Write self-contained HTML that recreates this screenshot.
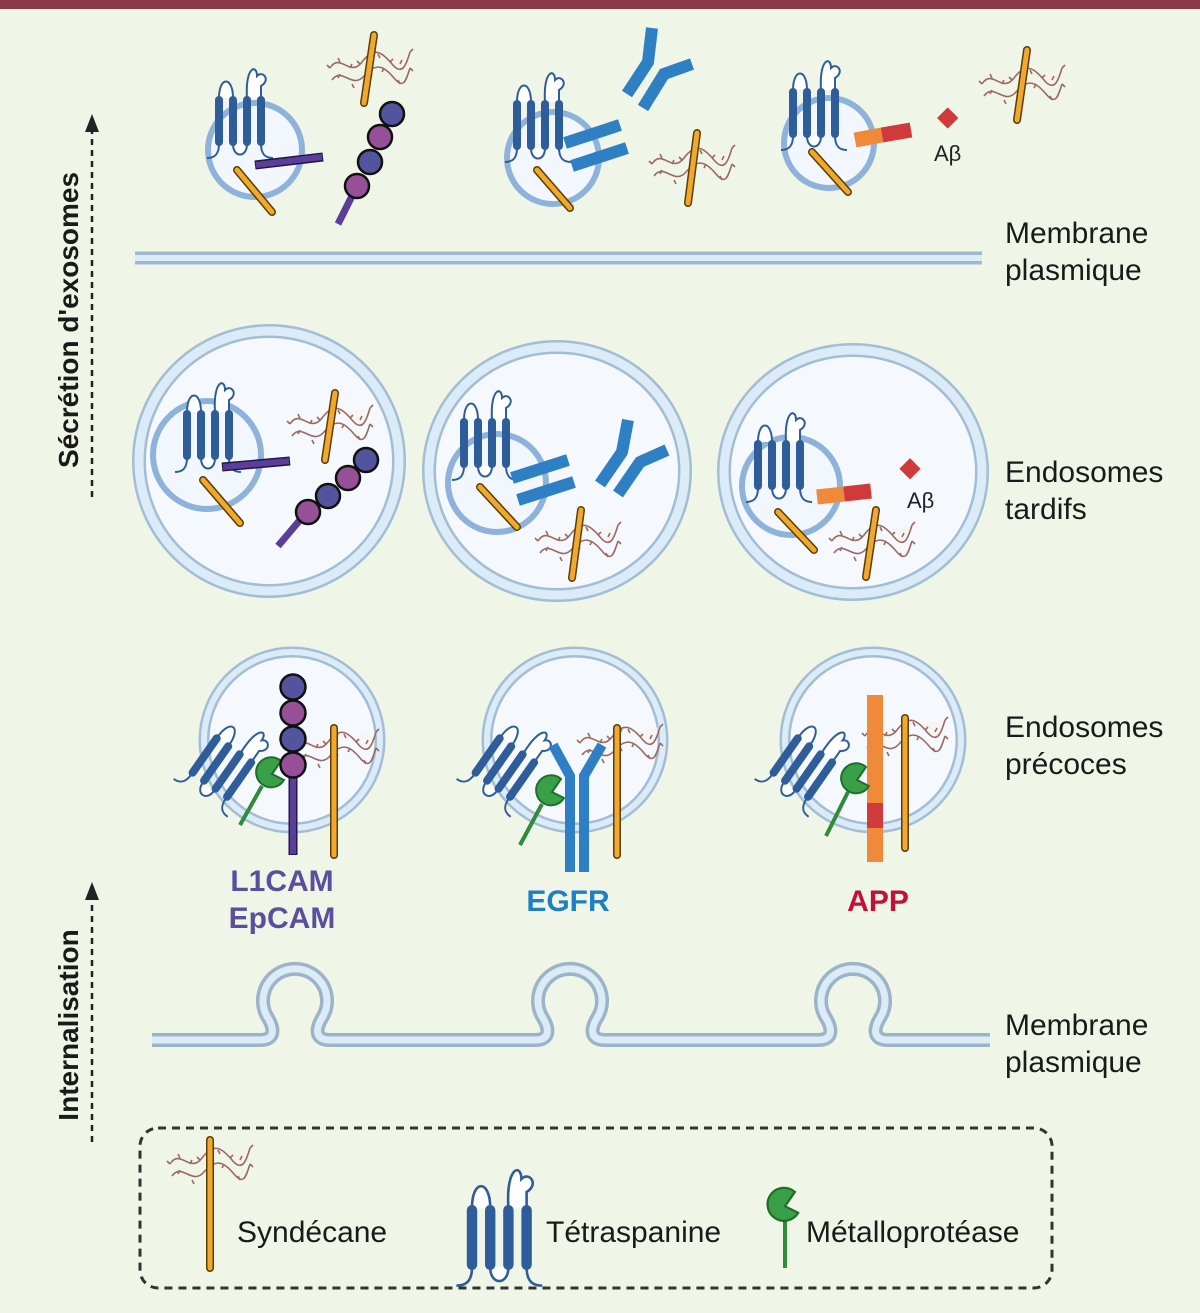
<!DOCTYPE html>
<html><head><meta charset="utf-8"><style>
html,body{margin:0;padding:0;background:#eff5e7;}
svg{display:block;font-family:"Liberation Sans","DejaVu Sans",sans-serif;}
</style></head><body>
<svg width="1200" height="1313" viewBox="0 0 1200 1313" xmlns="http://www.w3.org/2000/svg">
<defs>
<g id="tet">
  <path d="M0,2 C0,-20 14,-20 14,2" fill="#fff" stroke="#2e5d9a" stroke-width="2"/>
  <path d="M28,2 C26,-30 38,-32 38,-20 C44,-26 52,-16 42,-10 L42,2" fill="#fff" stroke="#2e5d9a" stroke-width="2"/>
  <path d="M14,48 C14,62 28,62 28,48" fill="#fff" stroke="#2e5d9a" stroke-width="2"/>
  <path d="M0,48 C0,60 -6,62 -12,62" fill="none" stroke="#2e5d9a" stroke-width="2"/>
  <path d="M42,48 C42,60 48,62 54,62" fill="none" stroke="#2e5d9a" stroke-width="2"/>
  <g fill="#2e5d9a"><rect x="-4" y="0" width="8" height="50" rx="4"/><rect x="10" y="0" width="8" height="50" rx="4"/><rect x="24" y="0" width="8" height="50" rx="4"/><rect x="38" y="0" width="8" height="50" rx="4"/></g>
</g>
<g id="squig" fill="none" stroke="#9a6a62" stroke-width="1.6">
  <path d="M-40,6 C-30,-10 -20,16 -8,0 S12,-10 22,2 S36,4 40,-10" fill="#f6f1ee" fill-opacity="0.6"/>
  <path d="M-38,18 C-28,4 -18,28 -6,14 S14,4 24,16 S36,18 40,6"/>
  <path d="M-40,6 l-3,-3 M-30,0 l-2,-4 M-20,6 l2,-4 M-10,2 l-3,-3 M0,-4 l2,-4 M10,-4 l-2,-4 M20,0 l3,-3 M30,2 l2,-4 M40,-10 l3,-3 M-30,12 l-2,4 M-18,22 l2,4 M0,10 l2,4 M14,6 l-2,4 M28,18 l2,4 M40,6 l3,3"/>
</g>
<g id="prot"><path d="M0,0 m9,-11 A15,15 0 1 0 12,8 L0,2 Z" fill="#3aa048" stroke="#1f6e2a" stroke-width="2"/></g>
</defs>

<rect x="0" y="0" width="1200" height="1313" fill="#eff5e7"/>
<rect x="0" y="0" width="1200" height="9" fill="#8c3b4d"/>

<line x1="92" y1="497" x2="92" y2="130" stroke="#222" stroke-width="2.5" stroke-dasharray="6 5"/>
<polygon points="92,114 85,132 99,132" fill="#222"/>
<text transform="translate(78,320) rotate(-90)" text-anchor="middle" font-size="28" font-weight="bold" fill="#1a1a1a">Sécrétion d'exosomes</text>
<line x1="92" y1="1142" x2="92" y2="898" stroke="#222" stroke-width="2.5" stroke-dasharray="6 5"/>
<polygon points="92,882 85,900 99,900" fill="#222"/>
<text transform="translate(78,1025) rotate(-90)" text-anchor="middle" font-size="28" font-weight="bold" fill="#1a1a1a">Internalisation</text>

<g font-size="30" fill="#1a1a1a">
<text x="1005" y="243">Membrane</text><text x="1005" y="280">plasmique</text>
<text x="1005" y="482">Endosomes</text><text x="1005" y="519">tardifs</text>
<text x="1005" y="737">Endosomes</text><text x="1005" y="774">précoces</text>
<text x="1005" y="1035">Membrane</text><text x="1005" y="1072">plasmique</text>
</g>

<line x1="135" y1="258" x2="982" y2="258" stroke="#9db8d0" stroke-width="13"/>
<line x1="135" y1="258" x2="982" y2="258" stroke="#dcebf8" stroke-width="6"/>

<path d="M152,1040 H260 C276,1040 274,1028 268,1018 A32,32 0 1 1 322,1018 C316,1028 314,1040 330,1040 H535 C551,1040 549,1028 543,1018 A32,32 0 1 1 597,1018 C591,1028 589,1040 605,1040 H818 C834,1040 832,1028 826,1018 A32,32 0 1 1 880,1018 C874,1028 872,1040 888,1040 H990" fill="none" stroke="#9db4c8" stroke-width="14"/>
<path d="M152,1040 H260 C276,1040 274,1028 268,1018 A32,32 0 1 1 322,1018 C316,1028 314,1040 330,1040 H535 C551,1040 549,1028 543,1018 A32,32 0 1 1 597,1018 C591,1028 589,1040 605,1040 H818 C834,1040 832,1028 826,1018 A32,32 0 1 1 880,1018 C874,1028 872,1040 888,1040 H990" fill="none" stroke="#dcebf8" stroke-width="7"/>

<g stroke="#8fb2da" stroke-width="6" fill="#f1f7fc">
<circle cx="255" cy="150" r="47"/>
<circle cx="553" cy="158" r="46"/>
<circle cx="829" cy="143" r="45"/>
</g>
<use href="#tet" x="219" y="96"/>
<use href="#tet" x="517" y="100"/>
<use href="#tet" x="793" y="88"/>
<line x1="255" y1="165" x2="323" y2="157" stroke="#23184a" stroke-width="9"/>
<line x1="256" y1="165" x2="322" y2="157" stroke="#5a3e99" stroke-width="6"/>
<line x1="237" y1="170" x2="272" y2="212" stroke="#5a3e00" stroke-width="8" stroke-linecap="round"/>
<line x1="237" y1="170" x2="272" y2="212" stroke="#f0a830" stroke-width="5" stroke-linecap="round"/>
<use href="#squig" x="370" y="62"/>
<line x1="374" y1="35" x2="364" y2="103" stroke="#5a3e00" stroke-width="8" stroke-linecap="round"/>
<line x1="374" y1="35" x2="364" y2="103" stroke="#f0a830" stroke-width="5" stroke-linecap="round"/>
<line x1="338" y1="224" x2="352" y2="196" stroke="#5a3e99" stroke-width="7"/>
<g stroke="#111" stroke-width="2.5"><circle cx="357" cy="186" r="12" fill="#955098"/><circle cx="370" cy="162" r="12" fill="#52549e"/><circle cx="380" cy="137" r="12" fill="#955098"/><circle cx="392" cy="114" r="12" fill="#52549e"/></g>
<g stroke="#2f7fc4" stroke-width="12"><line x1="565" y1="143" x2="620" y2="125"/><line x1="572" y1="166" x2="627" y2="148"/>
<polyline points="652,28 648,62 627,94" fill="none"/><polyline points="692,64 664,74 643,108" fill="none"/></g>
<line x1="537" y1="170" x2="570" y2="208" stroke="#5a3e00" stroke-width="8" stroke-linecap="round"/>
<line x1="537" y1="170" x2="570" y2="208" stroke="#f0a830" stroke-width="5" stroke-linecap="round"/>
<use href="#squig" x="692" y="158"/>
<line x1="697" y1="133" x2="688" y2="203" stroke="#5a3e00" stroke-width="8" stroke-linecap="round"/>
<line x1="697" y1="133" x2="688" y2="203" stroke="#f0a830" stroke-width="5" stroke-linecap="round"/>
<line x1="812" y1="152" x2="848" y2="192" stroke="#5a3e00" stroke-width="8" stroke-linecap="round"/>
<line x1="812" y1="152" x2="848" y2="192" stroke="#f0a830" stroke-width="5" stroke-linecap="round"/>
<line x1="855" y1="140" x2="882" y2="135" stroke="#f08a3a" stroke-width="15"/>
<line x1="882" y1="135" x2="911" y2="130" stroke="#d03a3a" stroke-width="15"/>
<rect x="940" y="110" width="15" height="15" fill="#d03a3a" transform="rotate(45 947 118)"/>
<text x="934" y="161" font-size="22" fill="#222">Aβ</text>
<use href="#squig" x="1022" y="78"/>
<line x1="1027" y1="50" x2="1017" y2="120" stroke="#5a3e00" stroke-width="8" stroke-linecap="round"/>
<line x1="1027" y1="50" x2="1017" y2="120" stroke="#f0a830" stroke-width="5" stroke-linecap="round"/>

<g fill="#f5f9fd">
<ellipse cx="269" cy="461" rx="130" ry="130" stroke="#a3bdd5" stroke-width="14"/>
<ellipse cx="557" cy="471" rx="128" ry="124" stroke="#a3bdd5" stroke-width="14"/>
<ellipse cx="853" cy="472" rx="129" ry="122" stroke="#a3bdd5" stroke-width="14"/>
</g>
<g fill="none" stroke="#dcebf8" stroke-width="9">
<ellipse cx="269" cy="461" rx="130" ry="130"/>
<ellipse cx="557" cy="471" rx="128" ry="124"/>
<ellipse cx="853" cy="472" rx="129" ry="122"/>
</g>
<g stroke="#8fb2da" stroke-width="6" fill="#f1f7fc">
<circle cx="207" cy="455" r="54"/>
<circle cx="497" cy="483" r="49"/>
<circle cx="791" cy="486" r="49"/>
</g>
<use href="#tet" x="187" y="410"/>
<use href="#tet" x="464" y="418"/>
<use href="#tet" x="758" y="440"/>
<line x1="222" y1="467" x2="290" y2="461" stroke="#23184a" stroke-width="9"/>
<line x1="223" y1="467" x2="289" y2="461" stroke="#5a3e99" stroke-width="6"/>
<line x1="203" y1="480" x2="240" y2="523" stroke="#5a3e00" stroke-width="8" stroke-linecap="round"/>
<line x1="203" y1="480" x2="240" y2="523" stroke="#f0a830" stroke-width="5" stroke-linecap="round"/>
<use href="#squig" x="330" y="418"/>
<line x1="335" y1="393" x2="325" y2="460" stroke="#5a3e00" stroke-width="8" stroke-linecap="round"/>
<line x1="335" y1="393" x2="325" y2="460" stroke="#f0a830" stroke-width="5" stroke-linecap="round"/>
<line x1="278" y1="546" x2="300" y2="520" stroke="#5a3e99" stroke-width="7"/>
<g stroke="#111" stroke-width="2.5"><circle cx="308" cy="512" r="12" fill="#955098"/><circle cx="328" cy="496" r="12" fill="#52549e"/><circle cx="348" cy="478" r="12" fill="#955098"/><circle cx="366" cy="460" r="12" fill="#52549e"/></g>
<g stroke="#2f7fc4" stroke-width="12"><line x1="512" y1="478" x2="568" y2="460"/><line x1="518" y1="500" x2="574" y2="482"/>
<polyline points="628,420 622,452 600,484" fill="none"/><polyline points="667,450 640,462 618,494" fill="none"/></g>
<line x1="480" y1="487" x2="517" y2="527" stroke="#5a3e00" stroke-width="8" stroke-linecap="round"/>
<line x1="480" y1="487" x2="517" y2="527" stroke="#f0a830" stroke-width="5" stroke-linecap="round"/>
<use href="#squig" x="578" y="535"/>
<line x1="581" y1="510" x2="572" y2="578" stroke="#5a3e00" stroke-width="8" stroke-linecap="round"/>
<line x1="581" y1="510" x2="572" y2="578" stroke="#f0a830" stroke-width="5" stroke-linecap="round"/>
<line x1="778" y1="512" x2="814" y2="550" stroke="#5a3e00" stroke-width="8" stroke-linecap="round"/>
<line x1="778" y1="512" x2="814" y2="550" stroke="#f0a830" stroke-width="5" stroke-linecap="round"/>
<line x1="817" y1="497" x2="844" y2="494" stroke="#f08a3a" stroke-width="15"/>
<line x1="844" y1="494" x2="871" y2="491" stroke="#d03a3a" stroke-width="15"/>
<rect x="903" y="461" width="15" height="15" fill="#d03a3a" transform="rotate(45 910 468)"/>
<text x="907" y="508" font-size="22" fill="#222">Aβ</text>
<use href="#squig" x="872" y="535"/>
<line x1="876" y1="510" x2="866" y2="577" stroke="#5a3e00" stroke-width="8" stroke-linecap="round"/>
<line x1="876" y1="510" x2="866" y2="577" stroke="#f0a830" stroke-width="5" stroke-linecap="round"/>

<g fill="#f5f9fd" stroke="#a3bdd5" stroke-width="11">
<circle cx="292" cy="740" r="88"/><circle cx="575" cy="740" r="88"/><circle cx="873" cy="740" r="88"/>
</g>
<g fill="none" stroke="#dcebf8" stroke-width="6">
<circle cx="292" cy="740" r="88"/><circle cx="575" cy="740" r="88"/><circle cx="873" cy="740" r="88"/>
</g>
<use href="#squig" x="336" y="742"/>
<g transform="translate(219,735) rotate(35)"><use href="#tet"/></g>
<line x1="262" y1="786" x2="240" y2="825" stroke="#2f8a3a" stroke-width="4"/>
<use href="#prot" x="272" y="772"/>
<line x1="293" y1="770" x2="293" y2="855" stroke="#23184a" stroke-width="9"/>
<line x1="293" y1="770" x2="293" y2="854" stroke="#5a3e99" stroke-width="6"/>
<g stroke="#111" stroke-width="2.5"><circle cx="293" cy="765" r="12.5" fill="#955098"/><circle cx="293" cy="739" r="12.5" fill="#52549e"/><circle cx="293" cy="713" r="12.5" fill="#955098"/><circle cx="293" cy="687" r="12.5" fill="#52549e"/></g>
<line x1="334" y1="728" x2="334" y2="855" stroke="#5a3e00" stroke-width="8" stroke-linecap="round"/>
<line x1="334" y1="728" x2="334" y2="855" stroke="#f0a830" stroke-width="5" stroke-linecap="round"/>
<use href="#squig" x="620" y="737"/>
<g transform="translate(502,735) rotate(35)"><use href="#tet"/></g>
<line x1="542" y1="804" x2="520" y2="845" stroke="#2f8a3a" stroke-width="4"/>
<use href="#prot" x="552" y="790"/>
<g stroke="#2f7fc4" stroke-width="10" fill="none">
<polyline points="570,872 570,776 553,745"/><polyline points="584,872 584,776 602,745"/></g>
<line x1="617" y1="728" x2="617" y2="855" stroke="#5a3e00" stroke-width="8" stroke-linecap="round"/>
<line x1="617" y1="728" x2="617" y2="855" stroke="#f0a830" stroke-width="5" stroke-linecap="round"/>
<use href="#squig" x="905" y="730"/>
<rect x="867" y="695" width="16" height="167" fill="#f08a3a"/>
<rect x="867" y="803" width="16" height="25" fill="#d03a3a"/>
<g transform="translate(800,735) rotate(35)"><use href="#tet"/></g>
<line x1="848" y1="792" x2="826" y2="836" stroke="#2f8a3a" stroke-width="4"/>
<use href="#prot" x="857" y="778"/>
<line x1="905" y1="718" x2="905" y2="848" stroke="#5a3e00" stroke-width="8" stroke-linecap="round"/>
<line x1="905" y1="718" x2="905" y2="848" stroke="#f0a830" stroke-width="5" stroke-linecap="round"/>

<g font-size="30" font-weight="bold" text-anchor="middle">
<text x="282" y="891" fill="#5a4e9e">L1CAM</text>
<text x="282" y="928" fill="#5a4e9e">EpCAM</text>
<text x="568" y="911" fill="#1f7fc4">EGFR</text>
<text x="878" y="911" fill="#c41038">APP</text>
</g>

<rect x="140" y="1128" width="912" height="160" rx="18" fill="none" stroke="#333" stroke-width="3" stroke-dasharray="8 6"/>
<use href="#squig" x="210" y="1158"/>
<line x1="210" y1="1140" x2="210" y2="1268" stroke="#5a3e00" stroke-width="8" stroke-linecap="round"/>
<line x1="210" y1="1140" x2="210" y2="1268" stroke="#f0a830" stroke-width="5" stroke-linecap="round"/>
<text x="237" y="1242" font-size="30" fill="#1a1a1a">Syndécane</text>
<g transform="translate(472,1205) scale(1.3)"><use href="#tet"/></g>
<text x="546" y="1242" font-size="30" fill="#1a1a1a">Tétraspanine</text>
<line x1="785" y1="1210" x2="785" y2="1268" stroke="#2f8a3a" stroke-width="4"/>
<g transform="translate(785,1204) scale(1.1)"><use href="#prot"/></g>
<text x="806" y="1242" font-size="30" fill="#1a1a1a">Métalloprotéase</text>
</svg>
</body></html>
